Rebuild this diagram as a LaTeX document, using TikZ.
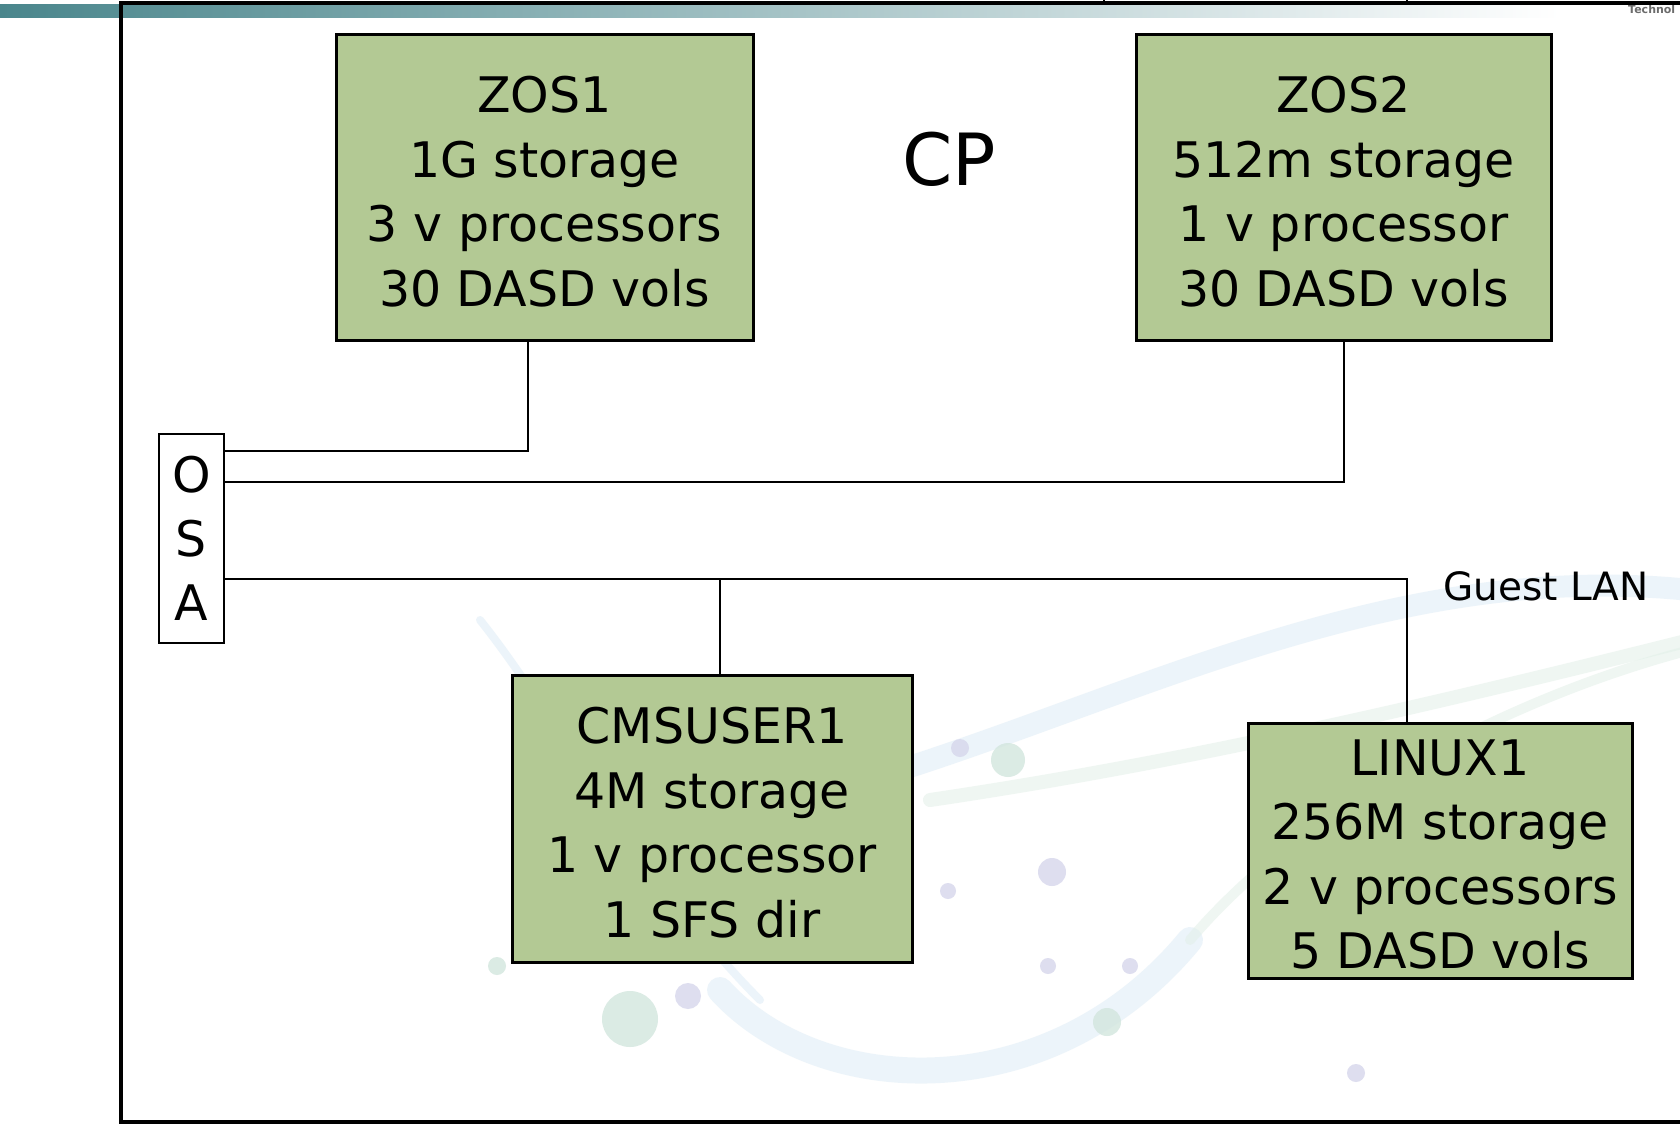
\documentclass[tikz,border=0pt]{standalone}
\usepackage{fontspec}
\setmainfont{DejaVu Sans}
\usetikzlibrary{calc}
\definecolor{boxgreen}{RGB}{179,201,148}
\definecolor{barteal}{RGB}{74,134,140}
\definecolor{swirlA}{RGB}{222,236,246}
\definecolor{swirlB}{RGB}{226,240,232}
\definecolor{dotA}{RGB}{214,214,236}
\definecolor{dotB}{RGB}{210,230,222}
\tikzset{
  vmbox/.style={draw=black, line width=3pt, fill=boxgreen, inner sep=0pt},
  vmtext/.style={inner sep=0pt, align=center, font=\fontsize{49}{64.5}\selectfont},
  osabox/.style={draw=black, line width=2pt, fill=white, inner sep=0pt, align=center,
    font=\fontsize{49}{64}\selectfont},
  link/.style={draw=black, line width=2pt},
  frameline/.style={draw=black, line width=3.2pt}
}
\begin{document}
\begin{tikzpicture}[x=1pt,y=-1pt]
\useasboundingbox (0,0) rectangle (1680,1124);
\fill[white] (0,0) rectangle (1680,1124);
% top bar
\shade[left color=barteal, right color=white] (0,5) rectangle (1560,18);
\node[anchor=north west, inner sep=0pt, text=gray!85!black, font=\fontsize{11}{11}\selectfont\bfseries] (tech) at (1628,5) {Technol};
% faint background swirls
\begin{scope}[line cap=round, opacity=0.55]
\draw[swirlA, line width=22pt] (900,770) .. controls (1150,690) and (1400,560) .. (1690,590);
\draw[swirlB, line width=14pt] (930,800) .. controls (1200,760) and (1450,700) .. (1690,640);
\draw[swirlA, line width=26pt] (720,990) .. controls (820,1100) and (1050,1110) .. (1190,940);
\draw[swirlB, line width=10pt] (1190,940) .. controls (1300,810) and (1500,700) .. (1690,650);
\draw[swirlA, line width=8pt] (480,620) .. controls (560,720) and (640,880) .. (760,1000);
\end{scope}
\begin{scope}[opacity=0.8]
\fill[dotA] (960,748) circle (9);
\fill[dotB] (1008,760) circle (17);
\fill[dotA] (1052,872) circle (14);
\fill[dotA] (948,891) circle (8);
\fill[dotA] (1048,966) circle (8);
\fill[dotA] (1130,966) circle (8);
\fill[dotB] (630,1019) circle (28);
\fill[dotA] (688,996) circle (13);
\fill[dotB] (497,966) circle (9);
\fill[dotB] (1107,1022) circle (14);
\fill[dotA] (1356,1073) circle (9);
\end{scope}
% frame
\draw[frameline] (1690,3) -- (121,3) -- (121,1122) -- (1690,1122);
\draw[black, line width=1.2pt] (1104,0) -- (1104,3);
\draw[black, line width=1.2pt] (1407,0) -- (1407,3);
% boxes
\node[vmbox, minimum width=417pt, minimum height=305pt] (zos1) at (544.5,187.5) {};
\node[vmbox, minimum width=415pt, minimum height=305pt] (zos2) at (1343.5,187.5) {};
\node[vmbox, minimum width=400pt, minimum height=287pt] (cms) at (712,818.5) {};
\node[vmbox, minimum width=384pt, minimum height=255pt] (linux) at (1440,850.5) {};
\node[vmtext] (zos1t) at ($(zos1.center)+(0,4)$) {ZOS1\\1G storage\\3 v processors\\30 DASD vols};
\node[vmtext] (zos2t) at ($(zos2.center)+(0,4)$) {ZOS2\\512m storage\\1 v processor\\30 DASD vols};
\node[vmtext] (cmst) at ($(cms.center)+(0,4)$) {CMSUSER1\\4M storage\\1 v processor\\1 SFS dir};
\node[vmtext] (linuxt) at ($(linux.center)+(0,4)$) {LINUX1\\256M storage\\2 v processors\\5 DASD vols};
\node[osabox, minimum width=65pt, minimum height=209pt] (osa) at (191.5,538.5)
  {O\\S\\A};
\node[font=\fontsize{72}{72}\selectfont, inner sep=0pt] (cp) at (949,159) {CP};
\node[font=\fontsize{39}{39}\selectfont, inner sep=0pt] (lan) at (1546,586) {Guest LAN};
% connectors
\coordinate (j1) at (528,450.5);
\coordinate (j2) at (1344,482);
\coordinate (j3) at (1407,579);
\coordinate (j4) at (720,579);
\draw[link] (zos1.south -| j1) -- (j1) -- (osa.east |- j1);
\draw[link] (zos2.south -| j2) -- (j2) -- (osa.east |- j2);
\draw[link] (osa.east |- j3) -- (j3) -- (linux.north -| j3);
\draw[link] (j4) -- (cms.north -| j4);
\end{tikzpicture}
\end{document}
